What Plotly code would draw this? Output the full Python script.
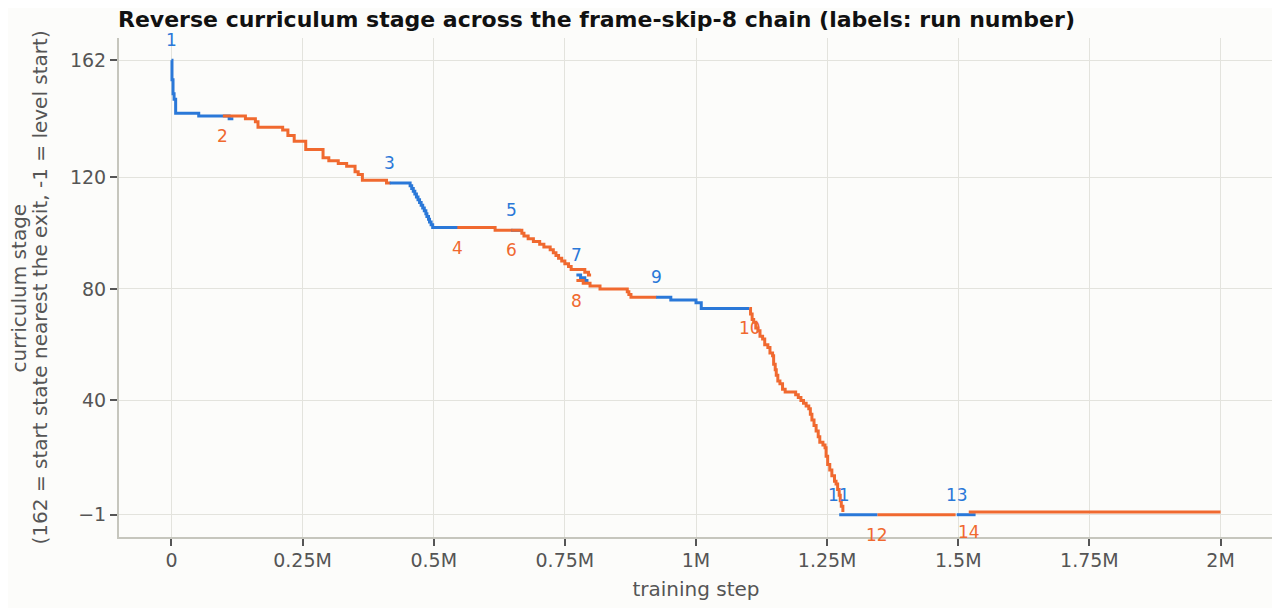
import plotly.graph_objects as go

# curriculum stage per run, x in thousands of training steps
# runs alternate colour: odd = blue, even = orange
run_ids = [1, 2, 3, 4, 5, 6, 7, 8, 9, 10, 11, 12, 13, 14]

run1_x = [0, 1, 3, 5, 8, 52, 110, 118]
run1_y = [162, 155, 150, 148, 143, 142, 141, 141]

run2_x = [98, 141, 160, 165, 212, 222, 234, 256, 289, 300, 318, 334, 350, 356, 364, 410, 418]
run2_y = [142, 141, 140, 138, 137, 135, 133, 130, 127, 126, 125, 124, 122, 121, 119, 118, 118]

run3_x = [416, 452, 455, 458, 461, 464, 467, 470, 473, 476, 479, 482, 485, 487, 490, 492, 495, 498, 550]
run3_y = [118, 118, 117, 116, 115, 114, 113, 112, 111, 110, 109, 108, 107, 106, 105, 104, 103, 102, 102]

run4_x = [545, 617, 650]
run4_y = [102, 101, 101]

run5_x = [648, 666]
run5_y = [101, 101]

run6_x = [648, 668, 672, 680, 690, 702, 710, 722, 728, 733, 738, 744, 750, 757, 762, 788, 795, 800]
run6_y = [101, 100, 99, 98, 97, 96, 95, 94, 93, 92, 91, 90, 89, 88, 87, 86, 85, 85]

run7_x = [772, 780, 788, 795]
run7_y = [85, 84, 83, 83]

run8_x = [772, 785, 798, 817, 869, 872, 876, 925]
run8_y = [83, 82, 81, 80, 79, 78, 77, 77]

run9_x = [924, 952, 1000, 1010, 1102]
run9_y = [77, 76, 75, 73, 73]

run10_x = [1102, 1104, 1107, 1110, 1114, 1118, 1122, 1127, 1131, 1137, 1141, 1146, 1148, 1151,
           1153, 1156, 1160, 1165, 1170, 1190, 1195, 1200, 1205, 1210, 1215, 1218, 1221, 1225,
           1229, 1233, 1236, 1242, 1246, 1248, 1251, 1255, 1259, 1264, 1267, 1270, 1273, 1275,
           1277, 1280]
run10_y = [73, 71, 69, 68, 66, 65, 63, 62, 60, 59, 57, 56, 53, 51,
           49, 47, 46, 44, 43, 42, 41, 40, 39, 38, 37, 35, 33, 31,
           29, 27, 25, 24, 23, 20, 17, 15, 13, 11, 10, 8, 6, 4,
           2, 0]

run11_x = [1273, 1346]
run11_y = [-1, -1]

run12_x = [1346, 1495]
run12_y = [-1, -1]

run13_x = [1497, 1533]
run13_y = [-1, -1]

run14_x = [1520, 2000]
run14_y = [0, 0]

runs_x = [run1_x, run2_x, run3_x, run4_x, run5_x, run6_x, run7_x,
          run8_x, run9_x, run10_x, run11_x, run12_x, run13_x, run14_x]
runs_y = [run1_y, run2_y, run3_y, run4_y, run5_y, run6_y, run7_y,
          run8_y, run9_y, run10_y, run11_y, run12_y, run13_y, run14_y]

y_ticks = [162, 120, 80, 40, -1]
x_ticks = [0, 250000, 500000, 750000, 1000000, 1250000, 1500000, 1750000, 2000000]
x_ticktext = ["0", "0.25M", "0.5M", "0.75M", "1M", "1.25M", "1.5M", "1.75M", "2M"]

BLUE = "#2a78d8"
ORANGE = "#f0692f"
FONT = "DejaVu Sans"

fig = go.Figure()
annots = []
for rid, xs, ys in zip(run_ids, runs_x, runs_y):
    col = BLUE if rid % 2 == 1 else ORANGE
    steps = [v * 1000 for v in xs]
    fig.add_trace(go.Scatter(x=steps, y=ys, mode="lines", line=dict(color=col, width=3, shape="hv"),
                             name="run %d" % rid, showlegend=False))
    # label at the start of each run, blue above, orange below
    annots.append(dict(x=steps[0], y=ys[0], text=str(rid), showarrow=False,
                       yshift=20 if rid % 2 == 1 else -20,
                       font=dict(family=FONT, size=17, color=col)))

# y axis title as two rotated lines (tighter spacing than plotly's own title)
ytitle_lines = ["curriculum stage", "(162 = start state nearest the exit, -1 = level start)"]
for xp, line in zip([-0.0867, -0.0685], ytitle_lines):
    annots.append(dict(x=xp, y=0.5, xref="paper", yref="paper", text=line, textangle=-90,
                       showarrow=False, xanchor="center", yanchor="middle",
                       font=dict(family=FONT, size=20, color="#555555")))

fig.update_layout(
    width=1280, height=608,
    paper_bgcolor="#fcfcfa", plot_bgcolor="#fcfcfa",
    margin=dict(l=111, r=15, t=30, b=79),
    font=dict(family=FONT, size=19, color="#555555"),
    title=dict(text="<b>Reverse curriculum stage across the frame-skip-8 chain (labels: run number)</b>",
               x=110 / 1280, xanchor="left", y=0.994, yanchor="top",
               font=dict(family=FONT, size=22, color="#111111")),
    annotations=annots,
)
fig.update_xaxes(range=[-100000, 2100000], tickvals=x_ticks, ticktext=x_ticktext,
                 showgrid=True, gridcolor="#e3e3dd", gridwidth=1, zeroline=False,
                 showline=True, linecolor="#c6c6bd", linewidth=2,
                 ticks="outside", ticklen=7, tickcolor="#555555", tickwidth=2,
                 tickfont=dict(size=19), automargin=False, ticklabelstandoff=-2,
                 title=dict(text="training step", font=dict(size=20), standoff=12))
fig.update_yaxes(range=[-9, 170], tickvals=y_ticks,
                 showgrid=True, gridcolor="#e3e3dd", gridwidth=1, zeroline=False,
                 showline=True, linecolor="#c6c6bd", linewidth=2,
                 ticks="outside", ticklen=7, tickcolor="#555555", tickwidth=2,
                 tickfont=dict(size=19), automargin=False)

fig.write_html("out.html")
